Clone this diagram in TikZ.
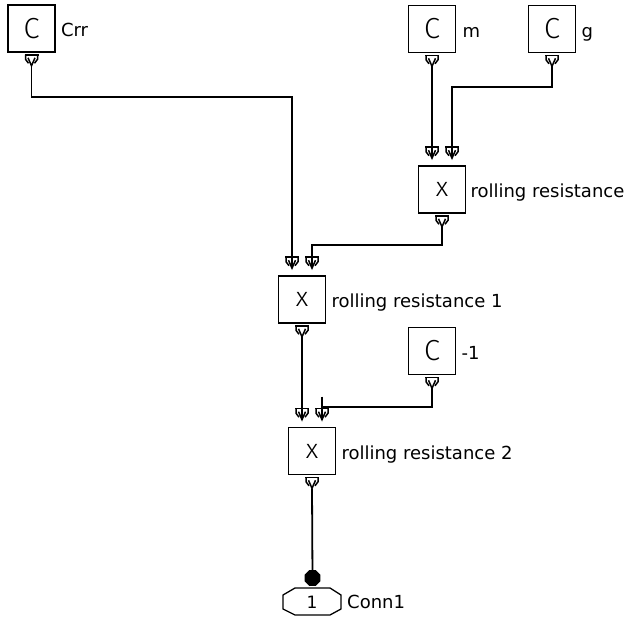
\documentclass[tikz,border=0pt]{standalone}
\usepackage{fontspec}
\setmainfont{DejaVu Sans}
\newfontfamily\cfont{Fira Sans Light}
\usetikzlibrary{calc,shapes.geometric}
\begin{document}
\begin{tikzpicture}[x=1pt,y=-1pt,
  blk/.style={draw, line width=1.6pt, minimum width=47pt, minimum height=47pt, inner sep=0pt},
  cblk/.style={blk, font=\cfont\fontsize{29}{30}\selectfont},
  xblk/.style={blk, font=\cfont\fontsize{27}{28}\selectfont},
  lbl/.style={anchor=base west, inner sep=0pt, font=\fontsize{18}{20}\selectfont},
  wire/.style={line width=1.8pt},
  portsym/.pic={
    \draw[line width=1.5pt] (-7,0) -- (7,0);
    \draw[line width=1.5pt] (-6,0) -- (-6,4.5) -- (-3,8.5);
    \draw[line width=1.5pt] (6,0) -- (6,4.5) -- (3,8.5);
    \draw[line width=1.5pt] (-3.5,3) -- (0,11) -- (3.5,3);
  }]
\useasboundingbox (0,0) rectangle (626,617);
\fill[white] (0,0) rectangle (626,617);

% blocks
\node[cblk] (crr) at (31.5,28.5) {C};
\node[cblk] (m)   at (432,29) {C};
\node[cblk] (g)   at (552,29) {C};
\node[xblk] (rr)  at (442,189.5) {x};
\node[xblk] (rr1) at (302,299.5) {x};
\node[cblk] (m1)  at (432,351) {C};
\node[xblk] (rr2) at (312,451) {x};

% labels
\node[lbl] (crrl) at ($(crr.east)+(5,8.5)$) {Crr};
\node[lbl] (ml)   at ($(m.east)+(6,8.5)$) {m};
\node[lbl] (gl)   at ($(g.east)+(5,8.5)$) {g};
\node[lbl] (rrl)  at ($(rr.east)+(4,8.5)$) {rolling resistance};
\node[lbl] (rr1l) at ($(rr1.east)+(5,8.5)$) {rolling resistance 1};
\node[lbl] (m1l)  at ($(m1.east)+(5,8.5)$) {-1};
\node[lbl] (rr2l) at ($(rr2.east)+(5,8.5)$) {rolling resistance 2};

% output port tips
\foreach \b in {crr,m,g,rr,rr1,m1,rr2}{
  \pic at ($(\b.south)+(0,2)$) {portsym};
  \coordinate (\b-o) at ($(\b.south)+(0,13)$);
}
% input port tips
\foreach \b in {rr,rr1,rr2}{
  \pic at ($(\b.north)+(-10,-18)$) {portsym};
  \pic at ($(\b.north)+(10,-18)$) {portsym};
  \coordinate (\b-a) at ($(\b.north)+(-10,-7)$);
  \coordinate (\b-b) at ($(\b.north)+(10,-7)$);
}

% junction levels
\coordinate (j1) at (0,97);
\coordinate (j2) at (0,87);
\coordinate (j3) at (0,245);
\coordinate (j4) at (0,407);

% wires
\draw[wire] (crr-o) -- (crr-o |- j1) -- (rr1-a |- j1) -- (rr1-a);
\draw[wire] (m-o) -- (rr-a);
\draw[wire] (g-o) -- (g-o |- j2) -- (rr-b |- j2) -- (rr-b);
\draw[wire] (rr-o) -- (rr-o |- j3) -- (rr1-b |- j3) -- (rr1-b);
\draw[wire] (rr1-o) -- (rr2-a);
\draw[wire] (m1-o) -- (m1-o |- j4) -- (rr2-b |- j4);
\draw[wire] ($(rr2-b)+(0,-23)$) -- (rr2-b);

% connector
\node[regular polygon, regular polygon sides=8, fill=black, minimum size=17pt, inner sep=0pt] (dot) at (312.5,578) {};
\draw[wire] (rr2-o) -- (dot);
\draw[line width=1.3pt] (283,595) -- (295,588) -- (330,588) -- (341,595) -- (341,609) -- (330,615) -- (295,615) -- (283,609) -- cycle;
\node[inner sep=0pt, font=\fontsize{17}{20}\selectfont, anchor=base] (conn) at (312,608) {1};
\node[lbl] (connl) at (347,608) {Conn1};
\end{tikzpicture}
\end{document}
